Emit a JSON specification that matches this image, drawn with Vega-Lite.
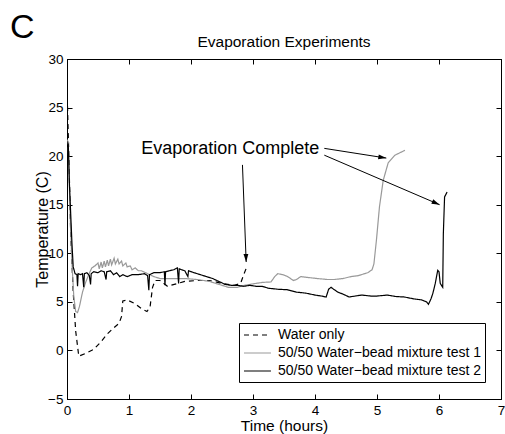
{
  "$schema": "https://vega.github.io/schema/vega-lite/v6.json",
  "autosize": {"type": "none"},
  "padding": {"left": 67, "top": 59, "right": 4, "bottom": 35},
  "width": 434,
  "height": 340,
  "background": "white",
  "config": {
    "font": "Liberation Sans",
    "view": {"stroke": "black", "strokeWidth": 1},
    "axis": {"grid": false, "domainColor": "black", "tickColor": "black", "labelColor": "black", "titleColor": "black", "tickSize": -5, "labelPadding": 9, "labelFontSize": 13.5, "titleFontSize": 15.5, "titleFontWeight": "normal", "domainWidth": 1, "tickWidth": 1, "labelFlush": false, "labelOverlap": false},
    "legend": {"labelColor": "black"}
  },
  "datasets": {
    "lines": [
      {"series": "Water only", "t": 0.0, "temp": 27.0},
      {"series": "Water only", "t": 0.03, "temp": 20.0},
      {"series": "Water only", "t": 0.06, "temp": 12.0},
      {"series": "Water only", "t": 0.1, "temp": 6.0},
      {"series": "Water only", "t": 0.14, "temp": 2.0},
      {"series": "Water only", "t": 0.19, "temp": -0.6},
      {"series": "Water only", "t": 0.3, "temp": -0.3},
      {"series": "Water only", "t": 0.43, "temp": 0.1},
      {"series": "Water only", "t": 0.55, "temp": 0.9},
      {"series": "Water only", "t": 0.65, "temp": 1.7},
      {"series": "Water only", "t": 0.75, "temp": 2.3},
      {"series": "Water only", "t": 0.84, "temp": 2.8},
      {"series": "Water only", "t": 0.88, "temp": 3.5},
      {"series": "Water only", "t": 0.9, "temp": 5.1},
      {"series": "Water only", "t": 0.97, "temp": 5.2},
      {"series": "Water only", "t": 1.1, "temp": 4.8},
      {"series": "Water only", "t": 1.2, "temp": 4.3},
      {"series": "Water only", "t": 1.29, "temp": 4.0},
      {"series": "Water only", "t": 1.34, "temp": 4.5},
      {"series": "Water only", "t": 1.38, "temp": 6.5},
      {"series": "Water only", "t": 1.42, "temp": 7.2},
      {"series": "Water only", "t": 1.5, "temp": 7.2},
      {"series": "Water only", "t": 1.62, "temp": 6.6},
      {"series": "Water only", "t": 1.73, "temp": 6.8},
      {"series": "Water only", "t": 1.9, "temp": 7.1},
      {"series": "Water only", "t": 2.1, "temp": 7.2},
      {"series": "Water only", "t": 2.3, "temp": 7.2},
      {"series": "Water only", "t": 2.5, "temp": 6.9},
      {"series": "Water only", "t": 2.7, "temp": 6.7},
      {"series": "Water only", "t": 2.8, "temp": 6.9},
      {"series": "Water only", "t": 2.85, "temp": 7.8},
      {"series": "Water only", "t": 2.9, "temp": 8.6},
      {"series": "50/50 Water−bead mixture test 1", "t": 0.0, "temp": 21.7},
      {"series": "50/50 Water−bead mixture test 1", "t": 0.02, "temp": 21.5},
      {"series": "50/50 Water−bead mixture test 1", "t": 0.05, "temp": 14.0},
      {"series": "50/50 Water−bead mixture test 1", "t": 0.08, "temp": 9.0},
      {"series": "50/50 Water−bead mixture test 1", "t": 0.11, "temp": 5.5},
      {"series": "50/50 Water−bead mixture test 1", "t": 0.14, "temp": 4.0},
      {"series": "50/50 Water−bead mixture test 1", "t": 0.17, "temp": 3.9},
      {"series": "50/50 Water−bead mixture test 1", "t": 0.2, "temp": 4.5},
      {"series": "50/50 Water−bead mixture test 1", "t": 0.25, "temp": 6.0},
      {"series": "50/50 Water−bead mixture test 1", "t": 0.3, "temp": 7.0},
      {"series": "50/50 Water−bead mixture test 1", "t": 0.35, "temp": 7.8},
      {"series": "50/50 Water−bead mixture test 1", "t": 0.4, "temp": 8.5},
      {"series": "50/50 Water−bead mixture test 1", "t": 0.45, "temp": 8.7},
      {"series": "50/50 Water−bead mixture test 1", "t": 0.5, "temp": 9.0},
      {"series": "50/50 Water−bead mixture test 1", "t": 0.52, "temp": 8.4},
      {"series": "50/50 Water−bead mixture test 1", "t": 0.55, "temp": 9.1},
      {"series": "50/50 Water−bead mixture test 1", "t": 0.57, "temp": 8.5},
      {"series": "50/50 Water−bead mixture test 1", "t": 0.6, "temp": 9.2},
      {"series": "50/50 Water−bead mixture test 1", "t": 0.62, "temp": 8.6},
      {"series": "50/50 Water−bead mixture test 1", "t": 0.65, "temp": 9.3},
      {"series": "50/50 Water−bead mixture test 1", "t": 0.67, "temp": 8.7},
      {"series": "50/50 Water−bead mixture test 1", "t": 0.7, "temp": 9.4},
      {"series": "50/50 Water−bead mixture test 1", "t": 0.72, "temp": 8.8},
      {"series": "50/50 Water−bead mixture test 1", "t": 0.76, "temp": 9.5},
      {"series": "50/50 Water−bead mixture test 1", "t": 0.78, "temp": 8.9},
      {"series": "50/50 Water−bead mixture test 1", "t": 0.82, "temp": 9.4},
      {"series": "50/50 Water−bead mixture test 1", "t": 0.84, "temp": 8.9},
      {"series": "50/50 Water−bead mixture test 1", "t": 0.88, "temp": 9.2},
      {"series": "50/50 Water−bead mixture test 1", "t": 0.9, "temp": 8.7},
      {"series": "50/50 Water−bead mixture test 1", "t": 0.95, "temp": 9.0},
      {"series": "50/50 Water−bead mixture test 1", "t": 0.97, "temp": 8.6},
      {"series": "50/50 Water−bead mixture test 1", "t": 1.02, "temp": 8.7},
      {"series": "50/50 Water−bead mixture test 1", "t": 1.05, "temp": 8.3},
      {"series": "50/50 Water−bead mixture test 1", "t": 1.1, "temp": 8.5},
      {"series": "50/50 Water−bead mixture test 1", "t": 1.15, "temp": 8.2},
      {"series": "50/50 Water−bead mixture test 1", "t": 1.2, "temp": 8.2},
      {"series": "50/50 Water−bead mixture test 1", "t": 1.3, "temp": 7.9},
      {"series": "50/50 Water−bead mixture test 1", "t": 1.4, "temp": 7.6},
      {"series": "50/50 Water−bead mixture test 1", "t": 1.5, "temp": 7.4},
      {"series": "50/50 Water−bead mixture test 1", "t": 1.7, "temp": 7.4},
      {"series": "50/50 Water−bead mixture test 1", "t": 1.9, "temp": 7.4},
      {"series": "50/50 Water−bead mixture test 1", "t": 2.1, "temp": 7.3},
      {"series": "50/50 Water−bead mixture test 1", "t": 2.3, "temp": 7.1},
      {"series": "50/50 Water−bead mixture test 1", "t": 2.45, "temp": 6.8},
      {"series": "50/50 Water−bead mixture test 1", "t": 2.6, "temp": 6.5},
      {"series": "50/50 Water−bead mixture test 1", "t": 2.75, "temp": 6.5},
      {"series": "50/50 Water−bead mixture test 1", "t": 2.86, "temp": 6.7},
      {"series": "50/50 Water−bead mixture test 1", "t": 3.0, "temp": 6.85},
      {"series": "50/50 Water−bead mixture test 1", "t": 3.15, "temp": 7.0},
      {"series": "50/50 Water−bead mixture test 1", "t": 3.29, "temp": 7.05},
      {"series": "50/50 Water−bead mixture test 1", "t": 3.35, "temp": 7.6},
      {"series": "50/50 Water−bead mixture test 1", "t": 3.4, "temp": 7.9},
      {"series": "50/50 Water−bead mixture test 1", "t": 3.48, "temp": 7.8},
      {"series": "50/50 Water−bead mixture test 1", "t": 3.56, "temp": 7.6},
      {"series": "50/50 Water−bead mixture test 1", "t": 3.65, "temp": 7.2},
      {"series": "50/50 Water−bead mixture test 1", "t": 3.7, "temp": 7.3},
      {"series": "50/50 Water−bead mixture test 1", "t": 3.77, "temp": 7.6},
      {"series": "50/50 Water−bead mixture test 1", "t": 3.9, "temp": 7.5},
      {"series": "50/50 Water−bead mixture test 1", "t": 4.04, "temp": 7.4},
      {"series": "50/50 Water−bead mixture test 1", "t": 4.2, "temp": 7.3},
      {"series": "50/50 Water−bead mixture test 1", "t": 4.31, "temp": 7.3},
      {"series": "50/50 Water−bead mixture test 1", "t": 4.45, "temp": 7.4},
      {"series": "50/50 Water−bead mixture test 1", "t": 4.58, "temp": 7.6},
      {"series": "50/50 Water−bead mixture test 1", "t": 4.7, "temp": 7.7},
      {"series": "50/50 Water−bead mixture test 1", "t": 4.85, "temp": 8.0},
      {"series": "50/50 Water−bead mixture test 1", "t": 4.92, "temp": 8.3},
      {"series": "50/50 Water−bead mixture test 1", "t": 4.95, "temp": 8.9},
      {"series": "50/50 Water−bead mixture test 1", "t": 4.99, "temp": 11.3},
      {"series": "50/50 Water−bead mixture test 1", "t": 5.04, "temp": 14.8},
      {"series": "50/50 Water−bead mixture test 1", "t": 5.1, "temp": 17.5},
      {"series": "50/50 Water−bead mixture test 1", "t": 5.18, "temp": 19.3},
      {"series": "50/50 Water−bead mixture test 1", "t": 5.29, "temp": 20.1},
      {"series": "50/50 Water−bead mixture test 1", "t": 5.45, "temp": 20.6},
      {"series": "50/50 Water−bead mixture test 2", "t": 0.0, "temp": 20.9},
      {"series": "50/50 Water−bead mixture test 2", "t": 0.02, "temp": 21.3},
      {"series": "50/50 Water−bead mixture test 2", "t": 0.04, "temp": 17.0},
      {"series": "50/50 Water−bead mixture test 2", "t": 0.06, "temp": 14.0},
      {"series": "50/50 Water−bead mixture test 2", "t": 0.08, "temp": 11.0},
      {"series": "50/50 Water−bead mixture test 2", "t": 0.1, "temp": 8.6},
      {"series": "50/50 Water−bead mixture test 2", "t": 0.13, "temp": 7.9},
      {"series": "50/50 Water−bead mixture test 2", "t": 0.16, "temp": 7.8},
      {"series": "50/50 Water−bead mixture test 2", "t": 0.17, "temp": 6.6},
      {"series": "50/50 Water−bead mixture test 2", "t": 0.18, "temp": 7.9},
      {"series": "50/50 Water−bead mixture test 2", "t": 0.22, "temp": 7.8},
      {"series": "50/50 Water−bead mixture test 2", "t": 0.25, "temp": 7.9},
      {"series": "50/50 Water−bead mixture test 2", "t": 0.27, "temp": 6.5},
      {"series": "50/50 Water−bead mixture test 2", "t": 0.28, "temp": 7.9},
      {"series": "50/50 Water−bead mixture test 2", "t": 0.32, "temp": 8.0},
      {"series": "50/50 Water−bead mixture test 2", "t": 0.36, "temp": 7.7},
      {"series": "50/50 Water−bead mixture test 2", "t": 0.38, "temp": 6.8},
      {"series": "50/50 Water−bead mixture test 2", "t": 0.39, "temp": 7.9},
      {"series": "50/50 Water−bead mixture test 2", "t": 0.43, "temp": 8.1},
      {"series": "50/50 Water−bead mixture test 2", "t": 0.5, "temp": 8.0},
      {"series": "50/50 Water−bead mixture test 2", "t": 0.55, "temp": 8.2},
      {"series": "50/50 Water−bead mixture test 2", "t": 0.6, "temp": 8.1},
      {"series": "50/50 Water−bead mixture test 2", "t": 0.63, "temp": 7.3},
      {"series": "50/50 Water−bead mixture test 2", "t": 0.64, "temp": 8.1},
      {"series": "50/50 Water−bead mixture test 2", "t": 0.7, "temp": 8.2},
      {"series": "50/50 Water−bead mixture test 2", "t": 0.75, "temp": 7.8},
      {"series": "50/50 Water−bead mixture test 2", "t": 0.8, "temp": 8.0},
      {"series": "50/50 Water−bead mixture test 2", "t": 0.85, "temp": 7.6},
      {"series": "50/50 Water−bead mixture test 2", "t": 0.9, "temp": 7.8},
      {"series": "50/50 Water−bead mixture test 2", "t": 0.97, "temp": 7.6},
      {"series": "50/50 Water−bead mixture test 2", "t": 1.05, "temp": 7.8},
      {"series": "50/50 Water−bead mixture test 2", "t": 1.15, "temp": 7.8},
      {"series": "50/50 Water−bead mixture test 2", "t": 1.25, "temp": 7.9},
      {"series": "50/50 Water−bead mixture test 2", "t": 1.3, "temp": 7.7},
      {"series": "50/50 Water−bead mixture test 2", "t": 1.32, "temp": 6.2},
      {"series": "50/50 Water−bead mixture test 2", "t": 1.33, "temp": 7.8},
      {"series": "50/50 Water−bead mixture test 2", "t": 1.4, "temp": 8.0},
      {"series": "50/50 Water−bead mixture test 2", "t": 1.5, "temp": 8.0},
      {"series": "50/50 Water−bead mixture test 2", "t": 1.57, "temp": 8.1},
      {"series": "50/50 Water−bead mixture test 2", "t": 1.58, "temp": 6.7},
      {"series": "50/50 Water−bead mixture test 2", "t": 1.59, "temp": 8.1},
      {"series": "50/50 Water−bead mixture test 2", "t": 1.65, "temp": 8.2},
      {"series": "50/50 Water−bead mixture test 2", "t": 1.72, "temp": 8.3},
      {"series": "50/50 Water−bead mixture test 2", "t": 1.78, "temp": 8.5},
      {"series": "50/50 Water−bead mixture test 2", "t": 1.8, "temp": 6.9},
      {"series": "50/50 Water−bead mixture test 2", "t": 1.81, "temp": 8.4},
      {"series": "50/50 Water−bead mixture test 2", "t": 1.85, "temp": 8.3},
      {"series": "50/50 Water−bead mixture test 2", "t": 1.9, "temp": 8.2},
      {"series": "50/50 Water−bead mixture test 2", "t": 1.95, "temp": 7.6},
      {"series": "50/50 Water−bead mixture test 2", "t": 1.96, "temp": 8.2},
      {"series": "50/50 Water−bead mixture test 2", "t": 2.05, "temp": 8.0},
      {"series": "50/50 Water−bead mixture test 2", "t": 2.15, "temp": 7.8},
      {"series": "50/50 Water−bead mixture test 2", "t": 2.25, "temp": 7.6},
      {"series": "50/50 Water−bead mixture test 2", "t": 2.35, "temp": 7.4},
      {"series": "50/50 Water−bead mixture test 2", "t": 2.45, "temp": 7.1},
      {"series": "50/50 Water−bead mixture test 2", "t": 2.55, "temp": 6.8},
      {"series": "50/50 Water−bead mixture test 2", "t": 2.65, "temp": 6.7},
      {"series": "50/50 Water−bead mixture test 2", "t": 2.75, "temp": 6.7},
      {"series": "50/50 Water−bead mixture test 2", "t": 2.85, "temp": 6.6},
      {"series": "50/50 Water−bead mixture test 2", "t": 2.95, "temp": 6.7},
      {"series": "50/50 Water−bead mixture test 2", "t": 3.05, "temp": 6.6},
      {"series": "50/50 Water−bead mixture test 2", "t": 3.15, "temp": 6.6},
      {"series": "50/50 Water−bead mixture test 2", "t": 3.25, "temp": 6.4},
      {"series": "50/50 Water−bead mixture test 2", "t": 3.4, "temp": 6.3},
      {"series": "50/50 Water−bead mixture test 2", "t": 3.55, "temp": 6.25},
      {"series": "50/50 Water−bead mixture test 2", "t": 3.7, "temp": 6.0},
      {"series": "50/50 Water−bead mixture test 2", "t": 3.85, "temp": 5.9},
      {"series": "50/50 Water−bead mixture test 2", "t": 4.0, "temp": 5.7},
      {"series": "50/50 Water−bead mixture test 2", "t": 4.1, "temp": 5.6},
      {"series": "50/50 Water−bead mixture test 2", "t": 4.18, "temp": 5.5},
      {"series": "50/50 Water−bead mixture test 2", "t": 4.22, "temp": 6.3},
      {"series": "50/50 Water−bead mixture test 2", "t": 4.26, "temp": 6.5},
      {"series": "50/50 Water−bead mixture test 2", "t": 4.3, "temp": 6.3},
      {"series": "50/50 Water−bead mixture test 2", "t": 4.37, "temp": 6.0},
      {"series": "50/50 Water−bead mixture test 2", "t": 4.45, "temp": 5.8},
      {"series": "50/50 Water−bead mixture test 2", "t": 4.55, "temp": 5.5},
      {"series": "50/50 Water−bead mixture test 2", "t": 4.65, "temp": 5.6},
      {"series": "50/50 Water−bead mixture test 2", "t": 4.75, "temp": 5.7},
      {"series": "50/50 Water−bead mixture test 2", "t": 4.9, "temp": 5.6},
      {"series": "50/50 Water−bead mixture test 2", "t": 5.0, "temp": 5.6},
      {"series": "50/50 Water−bead mixture test 2", "t": 5.17, "temp": 5.7},
      {"series": "50/50 Water−bead mixture test 2", "t": 5.3, "temp": 5.55},
      {"series": "50/50 Water−bead mixture test 2", "t": 5.44, "temp": 5.5},
      {"series": "50/50 Water−bead mixture test 2", "t": 5.6, "temp": 5.3},
      {"series": "50/50 Water−bead mixture test 2", "t": 5.72, "temp": 5.2},
      {"series": "50/50 Water−bead mixture test 2", "t": 5.8, "temp": 5.0},
      {"series": "50/50 Water−bead mixture test 2", "t": 5.83, "temp": 4.75},
      {"series": "50/50 Water−bead mixture test 2", "t": 5.87, "temp": 5.3},
      {"series": "50/50 Water−bead mixture test 2", "t": 5.9, "temp": 5.85},
      {"series": "50/50 Water−bead mixture test 2", "t": 5.94, "temp": 6.9},
      {"series": "50/50 Water−bead mixture test 2", "t": 5.96, "temp": 7.6},
      {"series": "50/50 Water−bead mixture test 2", "t": 5.98, "temp": 8.25},
      {"series": "50/50 Water−bead mixture test 2", "t": 6.0, "temp": 8.1},
      {"series": "50/50 Water−bead mixture test 2", "t": 6.02, "temp": 6.9},
      {"series": "50/50 Water−bead mixture test 2", "t": 6.06, "temp": 6.5},
      {"series": "50/50 Water−bead mixture test 2", "t": 6.07, "temp": 12.0},
      {"series": "50/50 Water−bead mixture test 2", "t": 6.09, "temp": 15.8},
      {"series": "50/50 Water−bead mixture test 2", "t": 6.13, "temp": 16.3}
    ],
    "arrows": [
      {"id": "a1", "t": 4.15, "temp": 20.8, "t2": 5.15, "temp2": 19.8},
      {"id": "a2", "t": 4.15, "temp": 20.1, "t2": 6.01, "temp2": 15.0},
      {"id": "a3", "t": 2.83, "temp": 19.1, "t2": 2.89, "temp2": 9.1}
    ],
    "notes": [
      {"label": "Evaporation Complete", "t": 4.07, "temp": 20.25}
    ],
    "heading": [
      {"label": "Evaporation Experiments", "t": 3.5, "temp": 31.24}
    ],
    "panel": [
      {"label": "C", "t": -0.92, "temp": 32.17}
    ]
  },
  "layer": [
    {
      "data": {"name": "lines"},
      "mark": {"type": "line", "strokeWidth": 1.2, "clip": true},
      "encoding": {
        "x": {"field": "t", "type": "quantitative", "scale": {"domain": [0, 7], "nice": false, "zero": false},
              "axis": {"orient": "bottom", "values": [0, 1, 2, 3, 4, 5, 6, 7], "title": "Time (hours)", "titlePadding": 2, "labelAlign": "center"}},
        "y": {"field": "temp", "type": "quantitative", "scale": {"domain": [-5, 30], "nice": false, "zero": false},
              "axis": {"orient": "left", "values": [-5, 0, 5, 10, 15, 20, 25, 30], "title": "Temperature (C)", "titlePadding": -3, "titleFontSize": 16}},
        "color": {"field": "series", "type": "nominal",
                  "scale": {"domain": ["Water only", "50/50 Water−bead mixture test 1", "50/50 Water−bead mixture test 2"], "range": ["black", "#999999", "black"]},
                  "legend": {"orient": "none", "legendX": 172, "legendY": 264, "title": null, "strokeColor": "black", "fillColor": "white", "padding": 4, "rowPadding": 3, "labelFontSize": 14, "labelLimit": 400, "symbolType": "M-1,0H2.85", "symbolSize": 196, "symbolStrokeWidth": 1.2, "labelOffset": 19, "cornerRadius": 0}},
        "strokeDash": {"field": "series", "type": "nominal",
                  "scale": {"domain": ["Water only", "50/50 Water−bead mixture test 1", "50/50 Water−bead mixture test 2"], "range": [[5, 4], [1, 0], [1, 0]]},
                  "legend": {"orient": "none", "legendX": 172, "legendY": 264, "title": null, "strokeColor": "black", "fillColor": "white", "padding": 4, "rowPadding": 3, "labelFontSize": 14, "labelLimit": 400, "symbolType": "M-1,0H2.85", "symbolSize": 196, "symbolStrokeWidth": 1.2, "labelOffset": 19, "cornerRadius": 0}},
        "order": {"field": "t", "type": "quantitative"}
      }
    },
    {
      "data": {"name": "notes"},
      "mark": {"type": "text", "fontSize": 18, "align": "right", "baseline": "alphabetic", "color": "black"},
      "encoding": {
        "x": {"field": "t", "type": "quantitative", "axis": {"orient": "top", "values": [0, 1, 2, 3, 4, 5, 6, 7], "labels": false, "title": null}},
        "y": {"field": "temp", "type": "quantitative", "axis": {"orient": "right", "values": [-5, 0, 5, 10, 15, 20, 25, 30], "labels": false, "title": null}},
        "text": {"field": "label"}
      }
    },
    {
      "data": {"name": "heading"},
      "mark": {"type": "text", "fontSize": 15.5, "align": "center", "baseline": "alphabetic", "color": "black"},
      "encoding": {
        "x": {"field": "t", "type": "quantitative", "axis": null},
        "y": {"field": "temp", "type": "quantitative", "axis": null},
        "text": {"field": "label"}
      }
    },
    {
      "data": {"name": "arrows"},
      "mark": {"type": "rule", "color": "black", "strokeWidth": 1},
      "encoding": {
        "x": {"field": "t", "type": "quantitative", "axis": null},
        "y": {"field": "temp", "type": "quantitative", "axis": null},
        "x2": {"field": "t2"},
        "y2": {"field": "temp2"}
      }
    },
    {
      "data": {"name": "arrows"},
      "transform": [{"filter": "datum.id == 'a1'"}],
      "mark": {"type": "point", "shape": "M0,0L-2,-0.6L-2,0.6Z", "size": 64, "filled": true, "color": "black", "opacity": 1, "angle": 9},
      "encoding": {"x": {"field": "t2", "type": "quantitative", "axis": null}, "y": {"field": "temp2", "type": "quantitative", "axis": null}}
    },
    {
      "data": {"name": "arrows"},
      "transform": [{"filter": "datum.id == 'a2'"}],
      "mark": {"type": "point", "shape": "M0,0L-2,-0.6L-2,0.6Z", "size": 64, "filled": true, "color": "black", "opacity": 1, "angle": 23.5},
      "encoding": {"x": {"field": "t2", "type": "quantitative", "axis": null}, "y": {"field": "temp2", "type": "quantitative", "axis": null}}
    },
    {
      "data": {"name": "arrows"},
      "transform": [{"filter": "datum.id == 'a3'"}],
      "mark": {"type": "point", "shape": "M0,0L-2,-0.6L-2,0.6Z", "size": 64, "filled": true, "color": "black", "opacity": 1, "angle": 88},
      "encoding": {"x": {"field": "t2", "type": "quantitative", "axis": null}, "y": {"field": "temp2", "type": "quantitative", "axis": null}}
    },
    {
      "data": {"name": "panel"},
      "mark": {"type": "text", "fontSize": 34, "align": "left", "baseline": "alphabetic", "color": "black"},
      "encoding": {
        "x": {"field": "t", "type": "quantitative", "axis": null},
        "y": {"field": "temp", "type": "quantitative", "axis": null},
        "text": {"field": "label"}
      }
    }
  ],
  "resolve": {"axis": {"x": "independent", "y": "independent"}}
}
